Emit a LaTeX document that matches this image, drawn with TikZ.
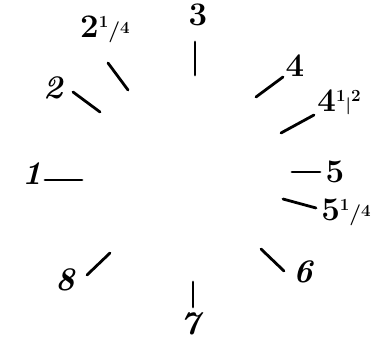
\documentclass[tikz,border=0pt]{standalone}
\begin{document}
\begin{tikzpicture}[x=1pt,y=-1pt,
  tick/.style={line width=2.8pt,line cap=round},
  lab/.style={inner sep=0pt,font=\fontsize{33}{33}\selectfont\bfseries},
  ilab/.style={lab,font=\fontsize{33}{33}\selectfont\bfseries\itshape}]
\newcommand\smallfig[1]{{\fontsize{17}{17}\selectfont #1}}
\newcommand\fracq{\raisebox{0.3em}{\smallfig{1}}{\fontsize{21}{21}\selectfont/}\raisebox{0.12em}{\smallfig{4}}}
\useasboundingbox (0,0) rectangle (373,342);
% tick ends
\coordinate (t1a) at (45,180);  \coordinate (t1b) at (82,180);
\coordinate (t2a) at (73,92);   \coordinate (t2b) at (100,112);
\coordinate (t2qa) at (108,63); \coordinate (t2qb) at (128,90);
\coordinate (t3a) at (195,42);  \coordinate (t3b) at (195,75);
\coordinate (t4a) at (256,97);  \coordinate (t4b) at (283,77);
\coordinate (t4ha) at (281,133);\coordinate (t4hb) at (314,115);
\coordinate (t5a) at (292,172); \coordinate (t5b) at (320,172);
\coordinate (t5qa) at (283,199);\coordinate (t5qb) at (316,208);
\coordinate (t6a) at (261,249); \coordinate (t6b) at (284,271);
\coordinate (t7a) at (193,282); \coordinate (t7b) at (193,307);
\coordinate (t8a) at (87,275);  \coordinate (t8b) at (110,253);
\foreach \a/\b in {t1a/t1b,t2a/t2b,t2qa/t2qb,t3a/t3b,t4a/t4b,t4ha/t4hb,t5a/t5b,t5qa/t5qb,t6a/t6b,t7a/t7b,t8a/t8b}
  \draw[tick] (\a) -- (\b);
% labels
\node[ilab] (l1) at (32,174) {1};
\node[ilab] (l2) at (53,88) {2};
\node[lab] (l2q) at (105,29) {2\fracq};
\node[lab] (l3) at (198,15) {3};
\node[lab] (l4) at (295,66) {4};
\node[lab] (l4h) at (339,102) {4\raisebox{0.3em}{\smallfig{1}}\raisebox{0.02em}{\smallfig{|}}\raisebox{0.3em}{\smallfig{2}}};
\node[lab] (l5) at (335,172) {5};
\node[lab,anchor=east] (l5q) at (371,212) {5\fracq};
\node[ilab] (l6) at (303,272) {6};
\node[ilab] (l7) at (190,324) {7};
\node[ilab] (l8) at (65,280) {8};
\end{tikzpicture}
\end{document}
